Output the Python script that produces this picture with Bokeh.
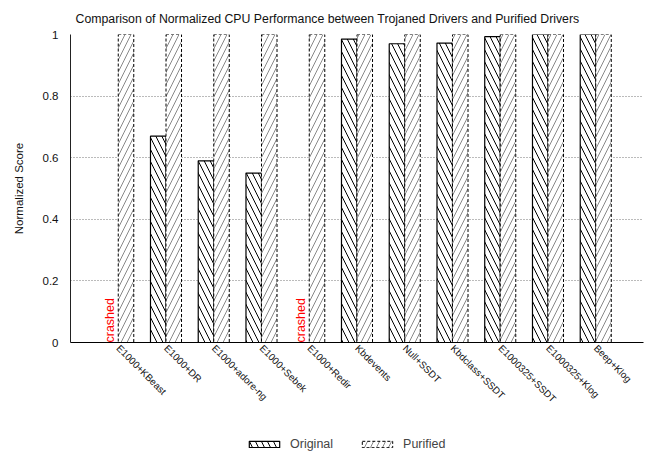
import math
from bokeh.plotting import figure
from bokeh.layouts import column
from bokeh.models import ColumnDataSource, Range1d, FactorRange, Legend, LegendItem, NumeralTickFormatter
from bokeh.transform import dodge
from bokeh.core.properties import value
from bokeh.embed import file_html
from bokeh.resources import INLINE

categories = ["E1000+KBeast", "E1000+DR", "E1000+adore-ng", "E1000+Sebek", "E1000+Redir",
              "Kbdevents", "Null+SSDT", "Kbdclass+SSDT", "E1000325+SSDT", "E1000325+Klog", "Beep+Klog"]
original = [0.0, 0.67, 0.59, 0.55, 0.0, 0.985, 0.97, 0.972, 0.993, 1.0, 1.0]
purified = [1.0, 1.0, 1.0, 1.0, 1.0, 1.0, 1.0, 1.0, 1.0, 1.0, 1.0]
crashed_cats = ["E1000+KBeast", "E1000+Redir"]
y_ticks = [0, 0.2, 0.4, 0.6, 0.8, 1.0]
series_names = ["Original", "Purified"]

FONT = "Liberation Sans"

ORIG_STYLE = dict(fill_color="white", line_color="black", line_width=1.2,
                  hatch_pattern="left_diagonal_line", hatch_scale=12, hatch_weight=1,
                  hatch_color="black")
PUR_STYLE = dict(fill_color="white", line_color="black", line_width=1, line_dash="3 2",
                 hatch_pattern="right_diagonal_line", hatch_scale=12, hatch_weight=0.7,
                 hatch_color="#555555")

src = ColumnDataSource(dict(cat=categories, original=original, purified=purified))
crash_src = ColumnDataSource(dict(cat=crashed_cats, y=[0.0] * len(crashed_cats),
                                  label=["crashed"] * len(crashed_cats)))

x_range = FactorRange(*categories, range_padding=0.5, range_padding_units="absolute")

p = figure(width=647, height=425, output_backend="svg", toolbar_location=None,
           x_range=x_range, y_range=Range1d(0, 1),
           min_border_left=70, min_border_right=4, min_border_top=34, min_border_bottom=83)

p.title.text = "Comparison of Normalized CPU Performance between Trojaned Drivers and Purified Drivers"
p.title.text_font = FONT
p.title.text_font_size = "12.3px"
p.title.text_font_style = "normal"
p.title.align = "left"
p.title.offset = 5
p.title.standoff = 17
p.title.text_color = "#111111"

w = 0.325
p.vbar(x=dodge("cat", -w / 2, range=x_range), top="original", width=w, source=src, **ORIG_STYLE)
p.vbar(x=dodge("cat", w / 2, range=x_range), top="purified", width=w, source=src, **PUR_STYLE)

p.text(x=dodge("cat", -w / 2, range=x_range), y="y", text="label", source=crash_src,
       angle=math.pi / 2, text_align="left", text_baseline="middle",
       text_color="red", text_font=value(FONT), text_font_size="12.5px")

p.outline_line_color = None
p.xgrid.grid_line_color = None
p.ygrid.ticker = y_ticks
p.ygrid.grid_line_color = "#777777"
p.ygrid.grid_line_dash = "1 2"
p.ygrid.grid_line_width = 1

p.yaxis.ticker = y_ticks
p.yaxis.formatter = NumeralTickFormatter(format="0.[0]")
p.yaxis.axis_label = "Normalized Score"
p.yaxis.axis_label_text_font = FONT
p.yaxis.axis_label_text_font_size = "11.5px"
p.yaxis.axis_label_text_font_style = "normal"
p.yaxis.axis_label_text_color = "#111111"
p.yaxis.axis_label_standoff = 15
p.yaxis.major_label_text_font = FONT
p.yaxis.major_label_text_font_size = "11.5px"
p.yaxis.major_label_text_color = "#111111"
p.yaxis.major_tick_out = 0
p.yaxis.major_tick_in = 0
p.yaxis.minor_tick_out = 0
p.yaxis.minor_tick_in = 0
p.yaxis.major_label_standoff = 12
p.yaxis.axis_line_color = "#222222"

p.xaxis.major_label_orientation = -math.pi / 4
p.xaxis.major_label_text_font = FONT
p.xaxis.major_label_text_font_size = "9.8px"
p.xaxis.major_label_text_color = "#111111"
p.xaxis.major_tick_out = 0
p.xaxis.major_tick_in = 0
p.xaxis.major_label_standoff = 4
p.xaxis.axis_line_color = "black"
p.xaxis.axis_line_width = 1.2

# legend strip underneath the chart (proxy renderers are hidden; legend drawn normally)
pl = figure(width=647, height=28, output_backend="svg", toolbar_location=None,
            x_range=x_range, y_range=Range1d(0, 1),
            x_axis_location=None, y_axis_location=None, min_border=0)
pl.outline_line_color = None
pl.grid.grid_line_color = None
l1 = pl.vbar(x=dodge("cat", -w / 2, range=x_range), top="original", width=w, source=src,
             visible=False, **ORIG_STYLE)
l2 = pl.vbar(x=dodge("cat", w / 2, range=x_range), top="purified", width=w, source=src,
             visible=False, **PUR_STYLE)
legend = Legend(items=[LegendItem(label=series_names[0], renderers=[l1]),
                       LegendItem(label=series_names[1], renderers=[l2])],
                location=(175, 2), orientation="horizontal",
                glyph_width=38, glyph_height=8, label_standoff=7, spacing=25,
                padding=2, margin=0, border_line_color=None, background_fill_alpha=0,
                inactive_fill_alpha=0,
                label_text_font=FONT, label_text_font_size="12.5px", label_height=12)
pl.add_layout(legend, "center")

layout = column(p, pl, spacing=0)
open("out.html", "w").write(file_html(layout, INLINE))
